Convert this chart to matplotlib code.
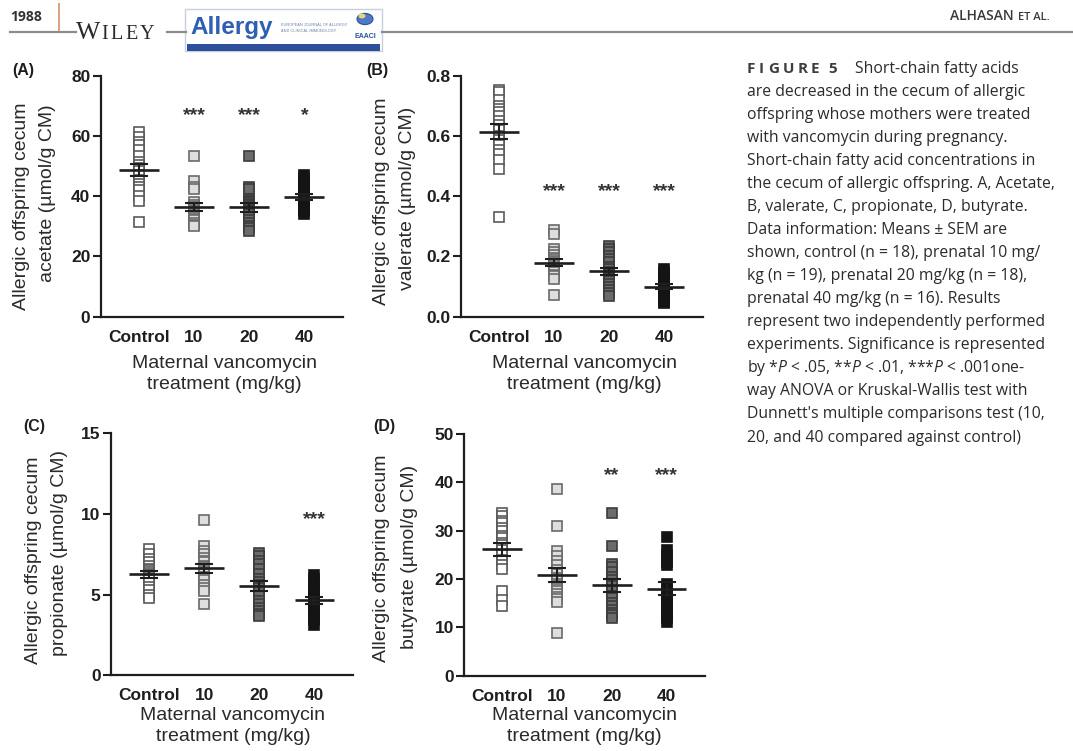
import numpy as np
import matplotlib
matplotlib.use("Agg")
import matplotlib.pyplot as plt
from matplotlib.patches import Rectangle, Circle
from matplotlib.lines import Line2D
from matplotlib.transforms import offset_copy

plt.rcParams['font.family'] = ['Liberation Sans', 'DejaVu Sans']
plt.rcParams['mathtext.fontset'] = 'custom'
plt.rcParams['mathtext.rm'] = 'Open Sans'
plt.rcParams['mathtext.it'] = 'Open Sans:italic'

# ---------------- data ----------------
groups = ["Control", "10", "20", "40"]

acetate_control = [61.3, 59.5, 58, 57, 55.5, 53.5, 51.5, 50.5, 49.5, 48.5, 47, 45.5, 44, 43, 42, 40, 38.5, 31.6]
acetate_10 = [53.3, 45, 43, 42.5, 38, 37, 36.5, 36, 35.5, 35, 34.5, 34, 33.5, 33, 32.5, 32, 31, 30.5, 30]
acetate_20 = [53.2, 43, 42.5, 39, 38.5, 38, 37.5, 37, 36.5, 35.5, 35, 34, 33, 32, 31, 30, 29.5, 28.5]
acetate_40 = [47, 46, 45, 43.5, 42, 41, 40, 39.5, 39, 38, 37.5, 37, 36, 35.5, 35, 34]

valerate_control = [0.752, 0.745, 0.72, 0.70, 0.69, 0.68, 0.665, 0.65, 0.635, 0.62, 0.60, 0.585,
                    0.57, 0.555, 0.54, 0.52, 0.49, 0.332]
valerate_10 = [0.288, 0.275, 0.225, 0.215, 0.205, 0.195, 0.19, 0.185, 0.18, 0.175, 0.17, 0.165,
               0.16, 0.155, 0.15, 0.14, 0.135, 0.125, 0.072]
valerate_20 = [0.235, 0.225, 0.215, 0.20, 0.19, 0.18, 0.165, 0.16, 0.15, 0.145, 0.14, 0.13,
               0.12, 0.11, 0.10, 0.09, 0.08, 0.07]
valerate_40 = [0.16, 0.15, 0.14, 0.13, 0.12, 0.11, 0.105, 0.10, 0.095, 0.09, 0.085, 0.08,
               0.07, 0.06, 0.05, 0.045]

propionate_control = [7.8, 7.5, 7.2, 7.0, 6.8, 6.6, 6.5, 6.4, 6.3, 6.2, 6.1, 6.0, 5.9, 5.7, 5.5, 5.3, 5.0, 4.8]
propionate_10 = [9.6, 8.0, 7.7, 7.5, 7.3, 7.1, 7.0, 6.8, 6.7, 6.6, 6.5, 6.4, 6.3, 6.1, 5.9, 5.6, 5.4, 5.2, 4.4]
propionate_20 = [7.6, 7.4, 7.1, 6.9, 6.6, 6.3, 6.0, 5.8, 5.6, 5.4, 5.2, 4.9, 4.6, 4.4, 4.2, 4.0, 3.8, 3.7]
propionate_40 = [6.2, 6.0, 5.7, 5.4, 5.2, 5.0, 4.9, 4.7, 4.6, 4.4, 4.2, 4.0, 3.8, 3.6, 3.4, 3.1]

butyrate_control = [33.6, 33, 32, 31.5, 30.5, 30, 29, 28.5, 27.5, 27, 26, 25, 24, 23, 22, 17.5, 15.7, 14.5]
butyrate_10 = [38.6, 31, 25.7, 24.8, 23.8, 22.8, 21.8, 21, 20.3, 19.7, 19, 18.5, 18, 17.5, 16.8, 16.2,
               15.8, 15.3, 8.8]
butyrate_20 = [33.6, 26.8, 23.2, 22.5, 21.5, 20.5, 19.8, 19, 18.5, 17.5, 16.5, 16, 15, 14.5, 13.5, 13, 12.5, 12]
butyrate_40 = [28.6, 26, 25, 23.5, 22.8, 19, 18, 17, 16, 15, 14.5, 14, 13, 12.5, 12, 11.2]

acetate_stars = ["", "***", "***", "*"]
valerate_stars = ["", "***", "***", "***"]
propionate_stars = ["", "", "", "***"]
butyrate_stars = ["", "", "**", "***"]

acetate_ticks = [0, 20, 40, 60, 80]
valerate_ticks = [0.0, 0.2, 0.4, 0.6, 0.8]
propionate_ticks = [0, 5, 10, 15]
butyrate_ticks = [0, 10, 20, 30, 40, 50]

# ---------------- figure ----------------
W, H = 1073, 751
fig = plt.figure(figsize=(W / 100, H / 100), dpi=100)
fig.patch.set_facecolor("white")
renderer = fig.canvas.get_renderer()


def fx(x):
    return x / W


def fy(y):
    return 1 - y / H


face = ["white", "#dedede", "#6b6b6b", "#141414"]
edge = ["#5a5a5a", "#6a6a6a", "#3c3c3c", "#141414"]
INK = "#1e1e1e"
LABEL = "#2a2a2a"


def draw_panel(rect, series, ticks, fmt, stars, star_level, ylab, ylab_pos,
               letter, letter_pos, xlab_pos):
    l, t, r, b = rect
    ax = fig.add_axes([fx(l), fy(b), (r - l) / W, (b - t) / H])
    ax.set_xlim(-0.69, 3.7)
    ax.set_ylim(0, ticks[-1])
    for s in ("top", "right"):
        ax.spines[s].set_visible(False)
    for s in ("left", "bottom"):
        ax.spines[s].set_linewidth(1.6)
        ax.spines[s].set_color(INK)
    ax.set_yticks(ticks)
    ax.set_yticklabels([fmt.format(v) for v in ticks], fontsize=12.5,
                       fontweight="bold", color=INK)
    ax.tick_params(axis="y", direction="out", length=6, width=1.5, pad=1.5, color=INK)
    ax.set_xticks(range(len(groups)))
    ax.set_xticklabels(groups, fontsize=12.5, fontweight="bold", color=INK)
    ax.tick_params(axis="x", length=0, pad=9.5)

    for i, vals in enumerate(series):
        vals = np.asarray(vals, dtype=float)
        ax.plot(np.full(len(vals), i), vals, "s", ms=7, mfc=face[i], mec=edge[i],
                mew=1.2, zorder=2, clip_on=False)
        m = vals.mean()
        sem = vals.std(ddof=1) / np.sqrt(len(vals))
        ax.hlines(m, i - 0.36, i + 0.36, color=INK, lw=1.9, zorder=4)
        ax.errorbar(i, m, yerr=sem, fmt="none", ecolor=INK, elinewidth=1.5,
                    capsize=6.8, capthick=1.5, zorder=4)

    star_tr = offset_copy(ax.transData, fig=fig, x=0, y=-4.6, units="points")
    for i, s in enumerate(stars):
        if s:
            ax.text(i, star_level, s, transform=star_tr, ha="center", va="baseline",
                    fontsize=14, fontweight="bold", color="#333333")

    for line, (px, py) in zip(ylab, ylab_pos):
        fig.text(fx(px), fy(py), line, rotation=90, ha="center", va="center",
                 fontsize=14, color=LABEL)
    fig.text(fx(xlab_pos[0]), fy(xlab_pos[1]), "Maternal vancomycin\ntreatment (mg/kg)",
             ha="center", va="center", fontsize=14, color=LABEL, linespacing=1.33)
    fig.text(fx(letter_pos[0]), fy(letter_pos[1]), letter, ha="left", va="center",
             fontsize=11.5, fontweight="bold", color=INK)
    return ax


draw_panel((100.7, 75.7, 343, 316.7),
           [acetate_control, acetate_10, acetate_20, acetate_40],
           acetate_ticks, "{:.0f}", acetate_stars, 67.5,
           ["Allergic offspring cecum", "acetate (µmol/g CM)"], [(22, 206), (48, 193)],
           "(A)", (12, 70), (224, 374))

draw_panel((460.7, 75.7, 703, 316.7),
           [valerate_control, valerate_10, valerate_20, valerate_40],
           valerate_ticks, "{:.1f}", valerate_stars, 0.42,
           ["Allergic offspring cecum", "valerate (µmol/g CM)"], [(382, 201), (408, 198)],
           "(B)", (366, 70), (584, 374))

draw_panel((111, 433.3, 353, 675.3),
           [propionate_control, propionate_10, propionate_20, propionate_40],
           propionate_ticks, "{:.0f}", propionate_stars, 9.8,
           ["Allergic offspring cecum", "propionate (µmol/g CM)"], [(34, 560), (59, 553)],
           "(C)", (23, 427), (233, 726))

draw_panel((464.3, 434, 705, 675.7),
           [butyrate_control, butyrate_10, butyrate_20, butyrate_40],
           butyrate_ticks, "{:.0f}", butyrate_stars, 41.7,
           ["Allergic offspring cecum", "butyrate (µmol/g CM)"], [(382, 558), (409, 557)],
           "(D)", (373, 427), (584, 726))


# ---------------- running head ----------------
def spaced(x, y, chars, tracking, **kw):
    """Write characters one by one with extra spacing; returns the end x in pixels."""
    for ch in chars:
        t = fig.text(fx(x), fy(y), ch, va="baseline", **kw)
        x += t.get_window_extent(renderer).width + tracking
    return x


rule = dict(color="#8c8c8c", lw=1.6, transform=fig.transFigure)
for x0, x1 in [(10, 76), (167, 186), (382, 1073)]:
    fig.add_artist(Line2D([fx(x0), fx(x1)], [fy(31.5), fy(31.5)], **rule))
fig.add_artist(Line2D([fx(59), fx(59)], [fy(4), fy(30)], color="#d9a07a", lw=1.4,
                      transform=fig.transFigure))
fig.text(fx(10), fy(21), "1988", fontsize=10, fontweight="bold", color="#333333",
         family=["Open Sans", "DejaVu Sans"], va="baseline")
serif = ["Liberation Serif", "DejaVu Serif"]
fig.text(fx(76), fy(39.3), "W", fontsize=18.5, family=serif, color="#2a2a2a", va="baseline")
spaced(101, 39.3, "ILEY", 2.6, fontsize=14.5, family=serif, color="#2a2a2a")

fig.add_artist(Rectangle((fx(185), fy(50.7)), (382 - 185) / W, (50.7 - 9.3) / H,
                         transform=fig.transFigure, facecolor="white",
                         edgecolor="#c8cfdc", lw=1))
fig.add_artist(Rectangle((fx(187), fy(50.5)), (380 - 187) / W, (50.5 - 43.5) / H,
                         transform=fig.transFigure, facecolor="#2d4f9c", edgecolor="none"))
fig.text(fx(190), fy(34), "Allergy", fontsize=17.5, fontweight="bold", color="#2f5fb3",
         va="baseline")
fig.text(fx(281), fy(25.5), "EUROPEAN JOURNAL OF ALLERGY", fontsize=2.8, color="#6a7fb0",
         va="baseline")
fig.text(fx(281), fy(32), "AND CLINICAL IMMUNOLOGY", fontsize=2.8, color="#6a7fb0",
         va="baseline")
fig.add_artist(Circle((fx(365), fy(19)), 8 / W, transform=fig.transFigure,
                      facecolor="#4d79c7", edgecolor="#2d4f9c", lw=0.8))
fig.add_artist(Circle((fx(362), fy(16)), 3.5 / W, transform=fig.transFigure,
                      facecolor="#e8d27a", edgecolor="none"))
fig.text(fx(365), fy(37), "EAACI", fontsize=5, fontweight="bold", color="#2d4f9c",
         ha="center", va="center")

fig.text(fx(1014), fy(20), "ALHASAN", fontsize=10, fontweight="semibold", color="#3a3a3a",
         ha="right", va="baseline", family=["Open Sans", "DejaVu Sans"])
fig.text(fx(1018), fy(20), "ET AL.", fontsize=8, fontweight="semibold", color="#3a3a3a",
         ha="left", va="baseline", family=["Open Sans", "DejaVu Sans"])

# ---------------- caption ----------------
CAP_SIZE = 11.3
CAP = dict(fontsize=CAP_SIZE, color="#2b2b2b", family=["Open Sans", "DejaVu Sans"],
           va="baseline")
x0 = 747
y0 = 72.7
dy = 23.05

head_kw = dict(fontsize=11, fontweight="bold", color="#3d3d3d",
               family=["Open Sans", "DejaVu Sans"])
end = spaced(x0, y0, "FIGURE", 3.6, **head_kw)
fig.text(fx(end + 5), fy(y0), "5", va="baseline", **head_kw)
fig.text(fx(855), fy(y0), "Short-chain fatty acids", **CAP)

caption_lines = [
    "are decreased in the cecum of allergic",
    "offspring whose mothers were treated",
    "with vancomycin during pregnancy.",
    "Short-chain fatty acid concentrations in",
    "the cecum of allergic offspring. A, Acetate,",
    "B, valerate, C, propionate, D, butyrate.",
    "Data information: Means ± SEM are",
    "shown, control (n = 18), prenatal 10 mg/",
    "kg (n = 19), prenatal 20 mg/kg (n = 18),",
    "prenatal 40 mg/kg (n = 16). Results",
    "represent two independently performed",
    "experiments. Significance is represented",
    r"by *$P$ < .05, **$P$ < .01, ***$P$ < .001one-",
    "way ANOVA or Kruskal-Wallis test with",
    "Dunnett's multiple comparisons test (10,",
    "20, and 40 compared against control)",
]
for k, line in enumerate(caption_lines, start=1):
    fig.text(fx(x0), fy(y0 + k * dy), line, **CAP)

fig.savefig("out.png", dpi=100, facecolor="white")
